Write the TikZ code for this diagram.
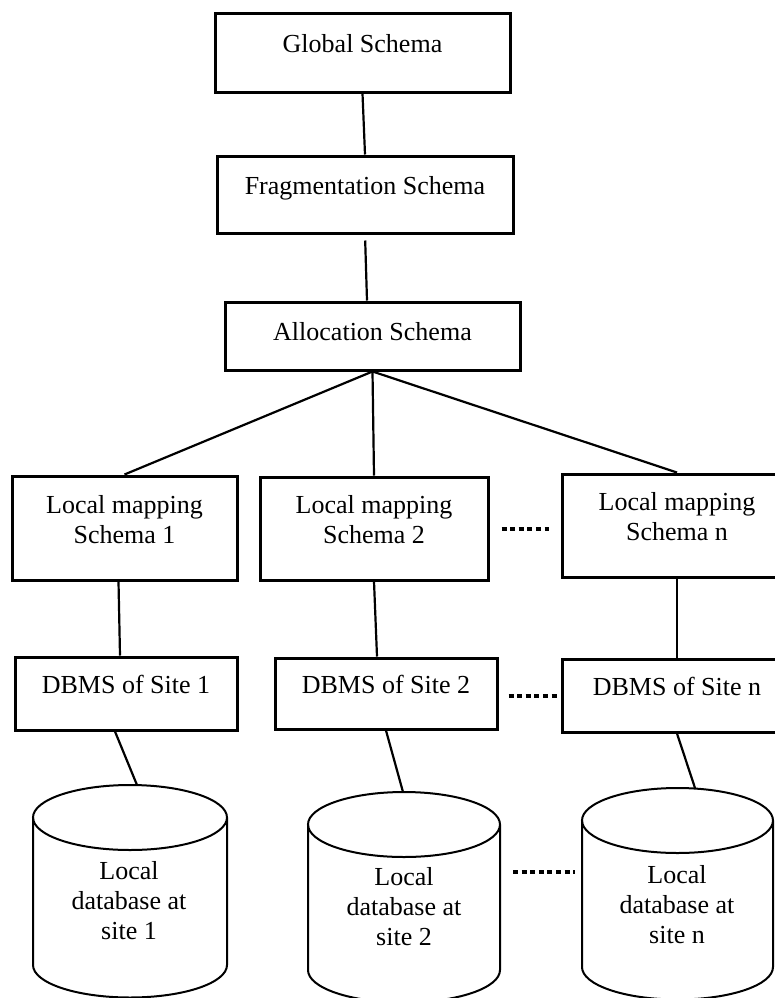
\documentclass[tikz,border=0pt]{standalone}
\usepackage{fontspec}
\setmainfont{Liberation Serif}
\usepackage{tikz}
\usetikzlibrary{positioning}

\begin{document}
\begin{tikzpicture}[x=0.5pt, y=-0.5pt,
    box/.style={rectangle, draw, line width=1.5pt, align=center, font=\fontsize{13}{14.8}\selectfont, text height=9pt, text depth=9pt},
    twoline/.style={box, text height=18pt, text depth=3pt},
    dbtext/.style={align=center, font=\fontsize{13}{15}\selectfont, inner sep=0pt},
    line/.style={line width=1.1pt},
    cyl/.style={line width=1pt},
    dots/.style={line width=2pt, dash pattern=on 2.5pt off 1.8pt}
]
\clip (0,0) rectangle (775,998);

% Nodes
\node[box, minimum width=147.5pt, minimum height=39.5pt] (glob) at (362.5,52.5) {Global Schema};
\node[box, minimum width=148pt, minimum height=38.5pt] (frag) at (365,194.5) {Fragmentation Schema};
\node[box, minimum width=147.5pt, minimum height=34pt, text depth=5pt] (alloc) at (372.5,336) {Allocation Schema};

\node[twoline, minimum width=112.5pt, minimum height=52pt] (lm1) at (124.5,528) {Local mapping\\Schema 1};
\node[twoline, minimum width=114pt, minimum height=51.5pt] (lm2) at (374,528.5) {Local mapping\\Schema 2};
\node[twoline, minimum width=115pt, minimum height=51.5pt] (lmn) at (677,525.5) {Local mapping\\Schema n};

\node[box, minimum width=111pt, minimum height=36.5pt] (db1) at (126,693.5) {DBMS of Site 1};
\node[box, minimum width=111pt, minimum height=35.5pt] (db2) at (386,693.5) {DBMS of Site 2};
\node[box, minimum width=115pt, minimum height=36.5pt] (dbn) at (677,695.5) {DBMS of Site n};

% Databases
\draw[cyl] (33,817.5) -- (33,965) arc[start angle=180, end angle=0, x radius=97, y radius=32.5] -- (227,817.5);
\draw[cyl] (130,817.5) ellipse [x radius=97, y radius=32.5];
\draw[cyl] (308,824.5) -- (308,970) arc[start angle=180, end angle=0, x radius=96, y radius=32.5] -- (500,824.5);
\draw[cyl] (404,824.5) ellipse [x radius=96, y radius=32.5];
\draw[cyl] (582,820.5) -- (582,967) arc[start angle=180, end angle=0, x radius=95.5, y radius=32.5] -- (773,820.5);
\draw[cyl] (677.5,820.5) ellipse [x radius=95.5, y radius=32.5];

\node[dbtext, anchor=base] (site1) at (129,939) {Local\\database at\\site 1};
\node[dbtext, anchor=base] (site2) at (404,945) {Local\\database at\\site 2};
\node[dbtext, anchor=base] (siten) at (677,943) {Local\\database at\\site n};

\coordinate (top1) at (137,785);
\coordinate (top2) at (403,792);
\coordinate (topn) at (695,788);
\coordinate (c2e) at (500,872);
\coordinate (cnw) at (582,872);

% Lines
\draw[line] (glob.south) -- (frag.north);
\draw[line, shorten <=3pt] (frag.south) -- ([xshift=-2.75pt]alloc.north);
\draw[line] (alloc.south) -- (lm1.north);
\draw[line] (alloc.south) -- (lm2.north);
\draw[line] (alloc.south) -- (lmn.north);
\draw[line] ([xshift=-3pt]lm1.south) -- ([xshift=-3pt]db1.north);
\draw[line] (lm2.south) -- ([xshift=-4.5pt]db2.north);
\draw[line] (lmn.south) -- (dbn.north);
\draw[line] ([xshift=-5.5pt]db1.south) -- (top1);
\draw[line] (db2.south) -- (top2);
\draw[line] (dbn.south) -- (topn);

% Dots
\draw[dots, shorten <=6pt, shorten >=6pt] (lm2.east) -- (lm2.east -| lmn.west);
\draw[dots, shorten <=5pt, shorten >=2pt] ([yshift=-1pt]db2.east) -- ([yshift=-1pt]db2.east -| dbn.west);
\draw[dots, shorten <=6.5pt, shorten >=3.5pt] (c2e) -- (cnw);
\end{tikzpicture}
\end{document}
